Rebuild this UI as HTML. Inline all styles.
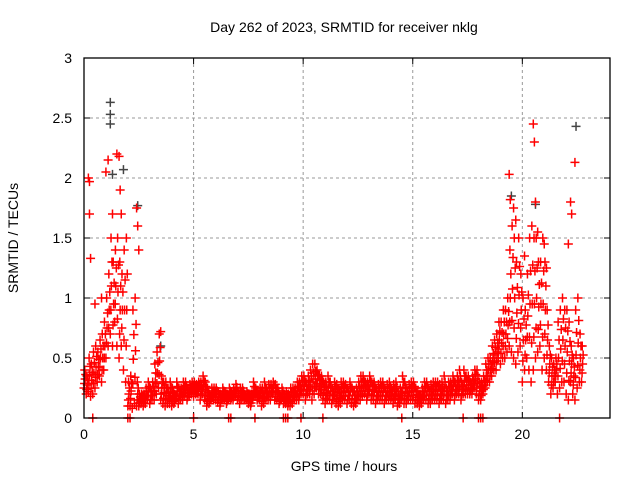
<!DOCTYPE html>
<html><head><meta charset="utf-8"><style>
body{margin:0;background:#fff}
svg{display:block;font-family:"Liberation Sans",sans-serif}
</style></head><body>
<svg id="chart" width="640" height="480">
<rect width="640" height="480" fill="#fff"/>
<text x="344" y="32" font-size="14" text-anchor="middle">Day 262 of 2023, SRMTID for receiver nklg</text>
<text x="344" y="471" font-size="14" text-anchor="middle">GPS time / hours</text>
<text transform="translate(18,238) rotate(-90)" font-size="14" text-anchor="middle">SRMTID / TECUs</text>
<g id="grid"></g>
<g id="ticks"></g>
<g id="points"></g>
<rect x="84" y="58" width="526" height="360" fill="none" stroke="#000" stroke-width="1.3"/>
</svg>
<script>
const xTicks=[0,5,10,15,20];
const yTicks=[0,0.5,1,1.5,2,2.5,3];
const yTickLabels=["0","0.5","1","1.5","2","2.5","3"];
const step=0.1;
const lo=[0.25,0.2,0.22,0.18,0.2,0.25,0.3,0.35,0.3,0.4,
0.5,0.6,0.7,0.6,0.8,0.6,0.5,0.6,0.4,0.3,
0.1,0.1,0.08,0.12,0.1,0.1,0.12,0.1,0.12,0.15,
0.12,0.15,0.15,0.2,0.25,0.15,0.12,0.1,0.12,0.12,
0.1,0.12,0.15,0.12,0.15,0.15,0.18,0.15,0.18,0.2,
0.18,0.2,0.2,0.15,0.2,0.15,0.1,0.12,0.15,0.15,
0.15,0.13,0.1,0.15,0.15,0.12,0.15,0.15,0.15,0.18,
0.15,0.12,0.15,0.15,0.15,0.12,0.1,0.15,0.18,0.15,
0.15,0.1,0.12,0.15,0.15,0.15,0.2,0.15,0.15,0.12,
0.15,0.12,0.12,0.1,0.1,0.12,0.15,0.15,0.15,0.2,
0.2,0.15,0.2,0.2,0.15,0.2,0.25,0.2,0.2,0.15,
0.12,0.15,0.15,0.12,0.15,0.12,0.1,0.12,0.15,0.15,
0.12,0.15,0.12,0.1,0.12,0.15,0.15,0.18,0.2,0.15,
0.2,0.15,0.15,0.12,0.15,0.15,0.15,0.12,0.15,0.15,
0.15,0.12,0.15,0.1,0.12,0.15,0.12,0.12,0.15,0.15,
0.15,0.12,0.12,0.1,0.12,0.15,0.15,0.12,0.12,0.15,
0.15,0.15,0.12,0.15,0.15,0.12,0.15,0.15,0.2,0.15,
0.2,0.2,0.15,0.2,0.2,0.2,0.2,0.2,0.25,0.2,
0.15,0.15,0.2,0.25,0.3,0.3,0.35,0.4,0.4,0.5,
0.45,0.5,0.5,0.55,0.6,0.55,0.5,0.45,0.55,0.6,
0.3,0.4,0.5,0.4,0.3,0.4,0.5,0.55,0.6,0.4,
0.5,0.4,0.3,0.2,0.25,0.3,0.2,0.25,0.3,0.3,
0.2,0.15,0.3,0.2,0.15,0.25,0.3,0.3];
const hi=[0.4,0.35,0.5,0.45,0.55,0.6,0.55,0.65,0.7,0.8,
1.0,1.2,1.5,1.3,1.4,1.5,1.3,1.2,1.4,1.5,
0.3,0.35,0.9,1.0,0.3,0.2,0.2,0.2,0.25,0.3,
0.25,0.3,0.45,0.55,0.7,0.35,0.3,0.3,0.25,0.3,
0.25,0.2,0.3,0.25,0.25,0.3,0.3,0.25,0.28,0.3,
0.3,0.28,0.3,0.3,0.35,0.3,0.25,0.2,0.25,0.25,
0.25,0.22,0.2,0.25,0.22,0.2,0.25,0.22,0.25,0.28,
0.22,0.25,0.25,0.2,0.22,0.2,0.2,0.3,0.25,0.22,
0.25,0.25,0.3,0.25,0.28,0.28,0.3,0.28,0.25,0.2,
0.25,0.2,0.22,0.2,0.25,0.25,0.25,0.3,0.3,0.35,
0.35,0.3,0.35,0.4,0.45,0.45,0.4,0.35,0.35,0.3,
0.3,0.35,0.3,0.25,0.3,0.28,0.25,0.3,0.3,0.28,
0.25,0.3,0.25,0.22,0.25,0.3,0.35,0.35,0.3,0.3,
0.35,0.3,0.3,0.25,0.28,0.3,0.3,0.25,0.28,0.3,
0.25,0.28,0.3,0.2,0.25,0.35,0.3,0.25,0.28,0.3,
0.3,0.25,0.22,0.2,0.25,0.3,0.3,0.25,0.28,0.3,
0.3,0.3,0.28,0.3,0.35,0.25,0.3,0.3,0.35,0.3,
0.35,0.4,0.3,0.4,0.35,0.35,0.3,0.35,0.4,0.4,
0.3,0.3,0.35,0.45,0.5,0.5,0.6,0.65,0.7,0.8,
0.8,0.9,0.9,1.0,1.4,1.6,1.5,1.3,1.5,1.2,
1.0,0.9,1.2,1.5,1.6,1.5,1.5,1.3,1.3,1.5,
1.3,0.9,0.6,0.5,0.45,0.5,0.8,0.9,1.0,0.9,
0.9,0.8,0.6,0.5,0.9,1.0,0.7,0.6];
const spikeT=[0.2,0.25,0.25,0.3,0.5,0.8,1.0,1.1,1.3,1.5,1.6,1.65,1.7,2.4,2.45,2.5,3.5,19.4,19.45,19.6,19.7,20.1,20.5,20.55,20.6,20.7,21.0,21.1,22.2,22.25,22.4,22.1];
const spikeV=[2.0,1.97,1.7,1.33,0.95,1.0,2.05,2.15,1.7,2.2,2.18,1.9,1.7,1.75,1.6,1.4,0.72,2.03,1.82,1.75,1.65,1.35,2.45,2.3,1.8,1.55,1.45,1.25,1.8,1.7,2.13,1.45];
const greyT=[1.2,1.2,1.2,1.8,2.45,19.5,20.6,22.45,1.3,3.5];
const greyV=[2.63,2.53,2.45,2.07,1.77,1.85,1.78,2.43,2.03,0.6];
const zeroT=[0.4,2.0,2.1,5.0,6.6,6.7,7.8,9.1,9.2,9.3,9.9,10.9,14.5,17.3,18.0,18.1,18.2,21.7];

const X0=84,X1=610,Y0=418,Y1=58,XMAX=24,YMAX=3;
const xs=v=>X0+(X1-X0)*v/XMAX;
const ys=v=>Y0-(Y0-Y1)*v/YMAX;
const NS="http://www.w3.org/2000/svg";
const grid=document.getElementById('grid'),ticks=document.getElementById('ticks'),pts=document.getElementById('points');
function mk(tag,attrs,parent){const e=document.createElementNS(NS,tag);for(const k in attrs)e.setAttribute(k,attrs[k]);parent.appendChild(e);return e;}
xTicks.forEach(t=>{
  const x=xs(t);
  if(t>0){const l=mk('line',{x1:x,x2:x,y1:Y1,y2:Y0,stroke:'#999','stroke-dasharray':'3,3'},grid);
  
  }
  mk('line',{x1:x,x2:x,y1:Y0,y2:Y0-6,stroke:'#000'},ticks);
  mk('line',{x1:x,x2:x,y1:Y1,y2:Y1+6,stroke:'#000'},ticks);
  const tx=mk('text',{x:x,y:Y0+21,'font-size':14,'text-anchor':'middle'},ticks);
  tx.textContent=t;
  
  
});
yTicks.forEach((t,i)=>{
  const y=ys(t);
  if(t>0&&t<YMAX){const l=mk('line',{x1:X0,x2:X1,y1:y,y2:y,stroke:'#999','stroke-dasharray':'3,3'},grid);
  
  }
  mk('line',{x1:X0,x2:X0+6,y1:y,y2:y,stroke:'#000'},ticks);
  mk('line',{x1:X1,x2:X1-6,y1:y,y2:y,stroke:'#000'},ticks);
  const tx=mk('text',{x:X0-12,y:y+5,'font-size':14,'text-anchor':'end'},ticks);
  tx.textContent=yTickLabels[i];
  
  
});
function plus(t,v,color,name){
  const x=xs(t),y=ys(v);
  const p=mk('path',{d:`M${x-4.5},${y}h9M${x},${y-4.5}v9`,stroke:color,'stroke-width':1.5,fill:'none'},pts);
  
  
}
greyT.forEach((t,i)=>plus(t,greyV[i],'#444','grey-point'));
lo.forEach((v,i)=>{
  const t=i*step;
  const h=hi[i];
  plus(t,v,'#f00','red-point');
  plus(t+step/2,(v+h)/2,'#f00','red-point');
  plus(t+step/4,(3*v+h)/4,'#f00','red-point');
  plus(t+3*step/4,(v+3*h)/4,'#f00','red-point');
  plus(t+step/3,h,'#f00','red-point');
});
spikeT.forEach((t,i)=>plus(t,spikeV[i],'#f00','spike-point'));
zeroT.forEach(t=>plus(t,0,'#f00','zero-point'));
</script>
</body></html>
